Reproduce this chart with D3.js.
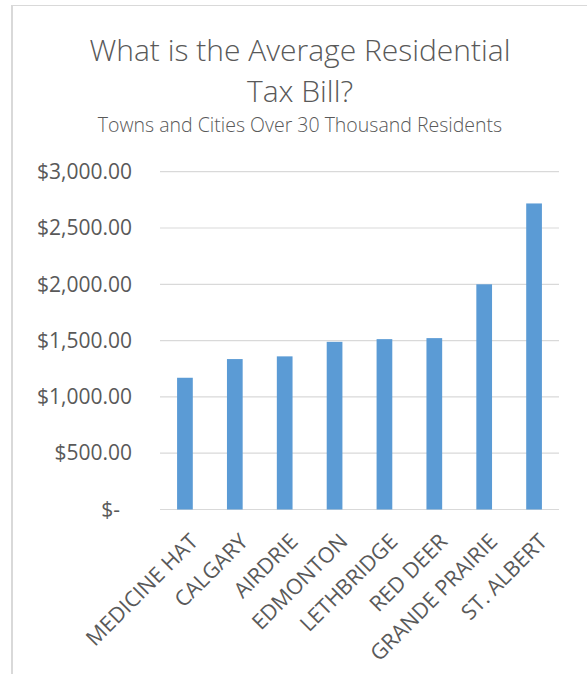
<!DOCTYPE html>
<html>
<head>
<meta charset="utf-8">
<script src="https://cdn.jsdelivr.net/npm/d3@7"></script>
<style>
  html, body { margin: 0; padding: 0; background: #fff; }
  #chart, #chart text { font-family: "Segoe UI", "Open Sans", sans-serif; }
  .axis .domain { display: none; }
  .axis text { fill: #595959; }
</style>
</head>
<body>
<div id="chart"></div>
<script>
// ---- Data -----------------------------------------------------------
const cities = ['MEDICINE HAT', 'CALGARY', 'AIRDRIE', 'EDMONTON', 'LETHBRIDGE', 'RED DEER', 'GRANDE PRAIRIE', 'ST. ALBERT'];
const taxBill = [1170, 1336, 1360, 1489, 1513, 1522, 2000, 2718];
const yTicks = [0, 500, 1000, 1500, 2000, 2500, 3000];
const titleLines = ['What is the Average Residential', 'Tax Bill?'];
const subtitle = 'Towns and Cities Over 30 Thousand Residents';

// ---- Dimensions -----------------------------------------------------
const dimensions = {
  width: 587,
  height: 674,
  margin: { top: 171.7, right: 28, bottom: 164.5, left: 160 }
};
dimensions.ctrWidth  = dimensions.width  - dimensions.margin.left - dimensions.margin.right;
dimensions.ctrHeight = dimensions.height - dimensions.margin.top  - dimensions.margin.bottom;

// ---- Canvas ---------------------------------------------------------
const svg = d3.select('#chart')
  .append('svg')
  .attr('width',  dimensions.width)
  .attr('height', dimensions.height);

// chart frame (right/bottom edges fall outside the picture)
svg.append('rect')
  .attr('x', 11.5).attr('y', 5.5)
  .attr('width', 700).attr('height', 700)
  .attr('fill', 'none')
  .attr('stroke', '#d9d9d9')
  .attr('stroke-width', 1);
svg.append('line')
  .attr('x1', 12.5).attr('x2', 12.5).attr('y1', 5).attr('y2', 674)
  .attr('stroke', '#d9d9d9').attr('stroke-width', 1);

// ---- Titles ---------------------------------------------------------
const cx = 300;
svg.append('g')
  .selectAll('text')
  .data(titleLines)
  .join('text')
  .attr('x', cx)
  .attr('y', (d, i) => 61 + i * 41)
  .attr('text-anchor', 'middle')
  .attr('fill', '#595959')
  .style('font-size', '30px')
  .style('font-weight', 300)
  .text(d => d);

svg.append('text')
  .attr('x', cx)
  .attr('y', 132)
  .attr('text-anchor', 'middle')
  .attr('fill', '#595959')
  .style('font-size', '19.5px')
  .style('font-weight', 300)
  .text(subtitle);

const ctr = svg.append('g')
  .attr('transform', `translate(${dimensions.margin.left},${dimensions.margin.top})`);

// ---- Scales ---------------------------------------------------------
const xScale = d3.scaleBand()
  .domain(cities)
  .range([0, dimensions.ctrWidth])
  .paddingInner(0.685)
  .paddingOuter(0.3425);

const yScale = d3.scaleLinear()
  .domain([0, 3000])
  .range([dimensions.ctrHeight, 0]);

// ---- Gridlines ------------------------------------------------------
ctr.append('g')
  .selectAll('line')
  .data(yTicks)
  .join('line')
  .attr('x1', 0)
  .attr('x2', dimensions.ctrWidth)
  .attr('y1', d => yScale(d))
  .attr('y2', d => yScale(d))
  .attr('stroke', '#d9d9d9')
  .attr('stroke-width', 1.2);

// ---- Bars -----------------------------------------------------------
ctr.append('g')
  .selectAll('rect')
  .data(taxBill)
  .join('rect')
  .attr('x', (d, i) => xScale(cities[i]))
  .attr('y', d => yScale(d))
  .attr('width', xScale.bandwidth())
  .attr('height', d => dimensions.ctrHeight - yScale(d))
  .attr('fill', '#5b9bd5');

// ---- Axes -----------------------------------------------------------
const money = d3.format('$,.2f');
const yAxis = d3.axisLeft(yScale)
  .tickValues(yTicks)
  .tickSize(0)
  .tickPadding(28)
  .tickFormat(d => d === 0 ? '$-' : money(d));

const yAxisGroup = ctr.append('g')
  .classed('axis', true)
  .call(yAxis)
  .attr('font-family', null);
yAxisGroup.selectAll('text')
  .style('font-size', '21px')
  .attr('dx', d => d === 0 ? -12 : 0);

const xAxis = d3.axisBottom(xScale).tickSize(0);
const xAxisGroup = ctr.append('g')
  .attr('transform', `translate(0,${dimensions.ctrHeight})`)
  .classed('axis', true)
  .call(xAxis)
  .attr('font-family', null);
xAxisGroup.selectAll('text')
  .style('font-size', '21.5px')
  .attr('text-anchor', 'end')
  .attr('x', 0)
  .attr('y', 0)
  .attr('dy', '0.75em')
  .attr('transform', 'translate(3,22) rotate(-45)');
</script>
</body>
</html>
